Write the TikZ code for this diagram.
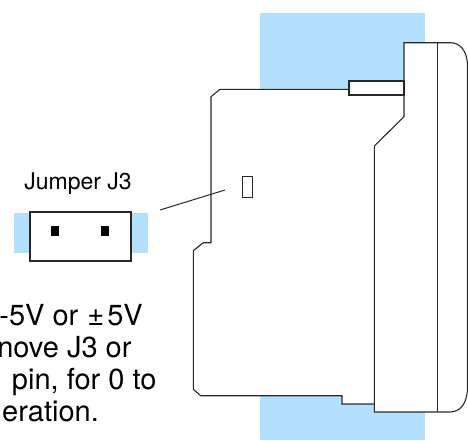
\documentclass[tikz,border=0pt]{standalone}
\usepackage{fontspec}
\setmainfont{TeX Gyre Heros}
\definecolor{lb}{RGB}{179,224,255}
\definecolor{ln}{RGB}{40,40,40}
\tikzset{
  outline/.style={draw=ln, line width=1.1pt, line join=miter},
  pinsq/.style={fill=black},
  lbl/.style={inner sep=0pt, font=\fontsize{23}{26}\selectfont},
  note/.style={inner sep=0pt, anchor=base east, font=\fontsize{29}{32}\selectfont}
}
\begin{document}
\begin{tikzpicture}[x=1pt,y=-1pt]
\useasboundingbox (0,0) rectangle (468,440);
\clip (0,0) rectangle (468,440);
% blue mounting band
\fill[lb] (260,13) rectangle (425,440);
% module silhouette (white)
\fill[white] (220,89.3) -- (349,89.3) -- (349,81) -- (404,81) -- (404,42.7) -- (450,42.7)
  .. controls (460,42.7) and (466.5,50) .. (467.5,64) -- (467.5,390)
  .. controls (466.5,404) and (460,412) .. (450,412) -- (374.3,412) -- (374.3,404) -- (342,404)
  -- (342,395.7) -- (200.7,395.7) -- (193.3,389.3) -- (193.3,250.7) -- (203.3,242.7)
  -- (211,242.7) -- (211,96.7) -- cycle;
% left body outline
\draw[outline] (349,89.3) -- (220,89.3) -- (211,96.7) -- (211,242.7) -- (203.3,242.7)
  -- (193.3,250.7) -- (193.3,389.3) -- (200.7,395.7) -- (342,395.7) -- (342,404) -- (374.3,404);
% tab
\draw[outline] (349,81) rectangle (404,95);
% right section
\draw[outline] (404,95) -- (404,116.7) -- (374.3,146) -- (374.3,412) -- (450,412)
  .. controls (460,412) and (466.5,404) .. (467.5,390) -- (467.5,64)
  .. controls (466.5,50) and (460,42.7) .. (450,42.7) -- (404,42.7) -- (404,81);
\draw[outline] (437.3,42.7) -- (437.3,412);
% jumper window on module
\node[outline, fill=white, minimum width=10.4pt, minimum height=20.6pt, inner sep=0pt, line width=1pt] (win) at (247.5,187) {};
% leader line
\coordinate (ldA) at (160,210);
\coordinate (ldB) at (225,190);
\draw[draw=ln, line width=1pt] (ldA) -- (ldB);
% jumper detail
\fill[lb] (14,213) rectangle (30,253);
\fill[lb] (131,213) rectangle (148,253);
\node[outline, fill=white, minimum width=101pt, minimum height=49pt, inner sep=0pt] (jmp) at (80.5,236.5) {};
\node[pinsq, minimum width=8pt, minimum height=10pt, inner sep=0pt] (pinA) at (55,231) {};
\node[pinsq, minimum width=8pt, minimum height=10pt, inner sep=0pt] (pinB) at (105,231) {};
\node[lbl, anchor=base] (jlbl) at (78,189) {Jumper J3};
% note text (clipped at left edge, as in the reference)
\node[note] (n1) at (143,325.7) {-5V or\hspace{9pt}±\hspace{3pt}5V};
\node[note] (n2) at (131.7,357.5) {nove J3 or};
\node[note] (n3) at (156.7,389.5) {pin, for 0 to};
\node[note] (n4) at (99,421.5) {eration.};
\end{tikzpicture}
\end{document}
